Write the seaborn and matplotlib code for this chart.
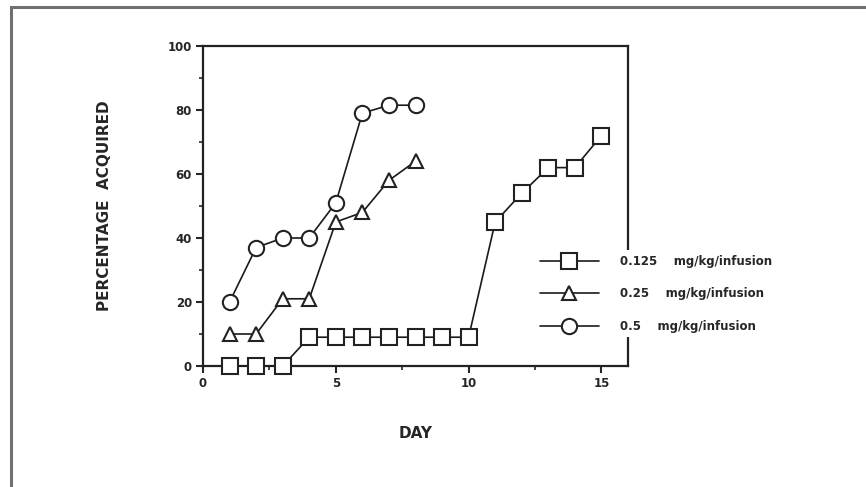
from matplotlib import pyplot as plt
from matplotlib.patches import Rectangle
import pandas as pd
import seaborn as sns

days_low = [1, 2, 3, 4, 5, 6, 7, 8, 9, 10, 11, 12, 13, 14, 15]
pct_low = [0, 0, 0, 9, 9, 9, 9, 9, 9, 9, 45, 54, 62, 62, 72]

days_mid = [1, 2, 3, 4, 5, 6, 7, 8]
pct_mid = [10, 10, 21, 21, 45, 48, 58, 64]

days_high = [1, 2, 3, 4, 5, 6, 7, 8]
pct_high = [20, 37, 40, 40, 51, 79, 81.5, 81.5]

labels = ['0.125    mg/kg/infusion', '0.25    mg/kg/infusion', '0.5    mg/kg/infusion']

sns.set_style('ticks')
plt.rcParams['font.family'] = ['DejaVu Sans']

f = plt.figure(figsize=(8.66, 4.87), dpi=100)
ax = f.add_axes([203/866, 121/487, 425/866, 320/487])

series = [(days_low, pct_low, 's', 11.5), (days_mid, pct_mid, '^', 10.5), (days_high, pct_high, 'o', 11)]
for (x, y, m, ms), lab in zip(series, labels):
    df = pd.DataFrame({'DAY': x, 'PCT': y})
    sns.lineplot(data=df, x='DAY', y='PCT', ax=ax, color='#1a1a1a', linewidth=1.2,
                 marker=m, markersize=ms, markerfacecolor='white', markeredgecolor='#222222',
                 markeredgewidth=1.5, label=lab, clip_on=False, zorder=3, legend=False)

ax.set_xlim(0, 16)
ax.set_ylim(0, 100)
ax.set_xticks([0, 5, 10, 15])
ax.set_xticks([2.5, 7.5, 12.5], minor=True)
ax.set_yticks([0, 20, 40, 60, 80, 100])
ax.set_yticks([10, 30, 50, 70, 90], minor=True)
ax.tick_params(which='major', direction='out', length=5, width=1.5, labelsize=8.5, pad=3)
ax.tick_params(which='minor', direction='out', length=3, width=1.2)
for t in ax.get_xticklabels() + ax.get_yticklabels():
    t.set_fontweight('bold')
for s in ax.spines.values():
    s.set_visible(True)
    s.set_linewidth(1.6)
    s.set_color('#222222')

ax.set_xlabel('DAY', fontsize=11, fontweight='bold', labelpad=26)
ax.set_ylabel('PERCENTAGE  ACQUIRED', fontsize=11, fontweight='bold', labelpad=40)

leg = f.legend(handles=ax.get_lines()[:3], labels=labels, loc='upper left',
               bbox_to_anchor=(535/866, 1 - 250/487), frameon=True, fancybox=False,
               handlelength=5.0, handletextpad=1.8, labelspacing=1.65,
               borderpad=0.4, borderaxespad=0, prop={'weight': 'bold', 'size': 8.5})
leg.get_frame().set_facecolor('white')
leg.get_frame().set_edgecolor('none')
leg.get_frame().set_alpha(1)

f.patches.append(Rectangle((11/866, -0.05), 1.1, 1.05 - 7/487, transform=f.transFigure,
                           fill=False, edgecolor='#707070', linewidth=2.2))

plt.savefig('out.png', dpi=100)
